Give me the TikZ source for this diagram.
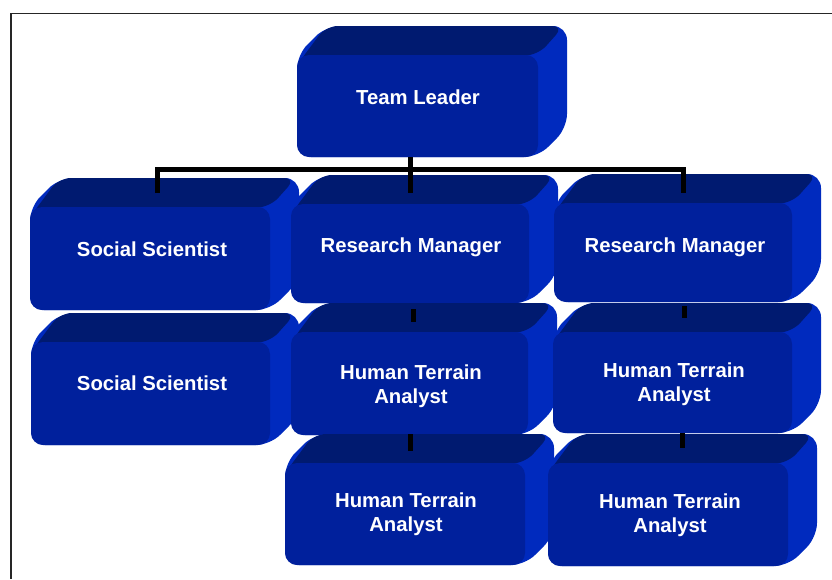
\documentclass[tikz,border=0pt]{standalone}
\usepackage{fontspec}
\setmainfont{Liberation Sans}
\usetikzlibrary{calc}
\definecolor{frontc}{RGB}{0,32,156}
\definecolor{topc}{RGB}{0,26,112}
\definecolor{sidec}{RGB}{0,42,190}
\newcommand\threedbox[5]{%
  \pgfmathsetmacro\tbw{#4-#2}\pgfmathsetmacro\tbh{#5-#3}%
  \pgfmathsetmacro\tbx{(#2+#4)/2}\pgfmathsetmacro\tby{(#3+#5)/2}%
  \fill[sidec, rounded corners=14pt] (#2,#3) -- ({#2+29},{#3-29}) -- ({#4+29},{#3-29}) -- ({#4+29},{#5-29}) -- (#4,#5) -- (#2,#5) -- cycle;
  \fill[topc, rounded corners=12pt] (#2,{#3+10}) -- ({#2+29},{#3-29}) -- ({#4+26},{#3-29}) -- (#4,#3) -- cycle;
  \node[frontbox, minimum width=\tbw pt, minimum height=\tbh pt] (#1) at (\tbx,\tby) {};
}
\tikzset{
  frontbox/.style={rectangle, rounded corners=12pt, fill=frontc, draw=none, inner sep=0pt},
  txt/.style={text=white, font=\bfseries\fontsize{20.3}{24}\selectfont, align=center, inner sep=0pt},
  conn/.style={line width=5pt, black, line join=miter, line cap=butt},
  frame/.style={line width=1.5pt, black!85}
}
\begin{document}
\begin{tikzpicture}[x=1pt, y=-1pt]
\useasboundingbox (0,0) rectangle (832,579);
\coordinate (fr1) at (832,13.5);
\coordinate (fr2) at (11,13.5);
\coordinate (fr3) at (11,579);
\draw[frame] (fr1) -- (fr2) -- (fr3);

% row 1
\threedbox{tl}{297}{55}{538}{157}
% row 2
\threedbox{ss1}{30}{207}{270}{310}
\threedbox{rm1}{291}{204}{529}{303}
\threedbox{rm2}{554}{203}{792}{302}
% row 3
\threedbox{ss2}{31}{342}{270}{445}
\threedbox{hta1}{291}{332}{528}{435}
\threedbox{hta2}{553}{332}{792}{433}
% row 4
\threedbox{hta3}{285}{463}{525}{565}
\threedbox{hta4}{548}{463}{788}{566}

% labels
\node[txt] (ttl) at (418,97) {Team Leader};
\node[txt] (tss1) at (152,249) {Social Scientist};
\node[txt] (trm1) at (411,247) {Research Manager};
\node[txt] (trm2) at (675,247) {Research Manager};
\node[txt] (tss2) at (152,383) {Social Scientist};
\node[txt] (thta1) at (411,386) {Human Terrain\\Analyst};
\node[txt] (thta2) at (674,384) {Human Terrain\\Analyst};
\node[txt] (thta3) at (406,514) {Human Terrain\\Analyst};
\node[txt] (thta4) at (670,515) {Human Terrain\\Analyst};

% connector coordinates
\coordinate (tlb) at (410,157);
\coordinate (bus) at (410,169);
\coordinate (busl) at (157,169);
\coordinate (busr) at (683,169);
\coordinate (ss1t) at (157,193);
\coordinate (rm1t) at (410,193);
\coordinate (rm2t) at (683,193);
\coordinate (h1a) at (413,309);
\coordinate (h1b) at (413,322);
\coordinate (h3a) at (410,434);
\coordinate (h3b) at (410,451);
\coordinate (h2a) at (684,306);
\coordinate (h2b) at (684,318);
\coordinate (h4a) at (682,433);
\coordinate (h4b) at (682,448);

\draw[conn] (ss1t) -- (busl) -- (busr) -- (rm2t);
\draw[conn] (tlb) -- (rm1t);
\draw[conn] (h1a) -- (h1b);
\draw[conn] (h3a) -- (h3b);
\draw[conn] (h2a) -- (h2b);
\draw[conn] (h4a) -- (h4b);
\end{tikzpicture}
\end{document}
